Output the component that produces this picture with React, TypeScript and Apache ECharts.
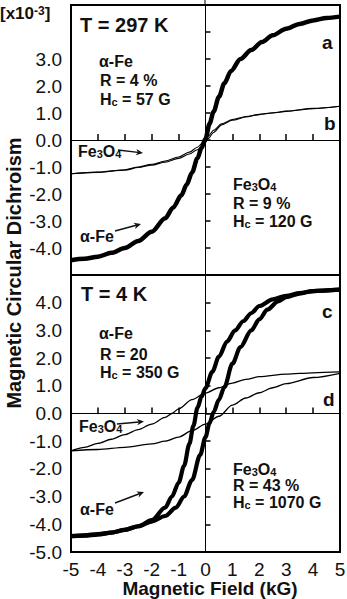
import React, { useEffect, useRef } from "react";
import * as echarts from "echarts";

// ---------- data (values in units of 1e-3, field in kG) ----------
const FIELD_MIN = -5;
const FIELD_MAX = 5;

// 297 K, alpha-Fe (curve a)
const rtFeX = [-5, -4.5, -4, -3.5, -3, -2.5, -2, -1.5, -1.2, -0.9, -0.7, -0.5, -0.3, -0.15, 0, 0.15, 0.3, 0.5, 0.7, 0.95, 1.3, 1.7, 2.1, 2.5, 3, 3.5, 4, 4.5, 5];
const rtFeY = [-4.45, -4.4, -4.32, -4.18, -4.0, -3.74, -3.4, -2.9, -2.5, -2.05, -1.65, -1.2, -0.68, -0.3, 0.05, 0.6, 1.05, 1.6, 2.1, 2.56, 3.0, 3.33, 3.63, 3.88, 4.12, 4.3, 4.43, 4.52, 4.57];

// 297 K, Fe3O4 (curve b), two nearly overlapping branches
const rtMagX = [-5, -4, -3, -2.5, -2, -1.5, -1, -0.6, -0.3, -0.1, 0, 0.1, 0.3, 0.6, 1, 1.5, 2, 2.5, 3, 4, 5];
const rtMagDownY = [-1.25, -1.2, -1.12, -1.02, -0.93, -0.82, -0.68, -0.52, -0.36, -0.2, -0.08, 0.05, 0.28, 0.56, 0.73, 0.85, 0.94, 1.0, 1.06, 1.16, 1.25];
const rtMagUpY = [-1.25, -1.19, -1.1, -1.0, -0.9, -0.78, -0.63, -0.45, -0.27, -0.1, 0.03, 0.14, 0.36, 0.6, 0.76, 0.87, 0.95, 1.01, 1.07, 1.17, 1.25];

// 4 K, alpha-Fe (curve c)
const ltFeDownX = [5, 4, 3.5, 3, 2.5, 2, 1.7, 1.4, 1.1, 0.8, 0.5, 0.25, 0, -0.15, -0.3, -0.45, -0.6, -0.8, -1.0, -1.25, -1.5, -2.0, -2.5, -3, -3.5, -4, -4.5, -5];
const ltFeDownY = [4.47, 4.42, 4.35, 4.25, 4.12, 3.88, 3.62, 3.33, 3.0, 2.6, 2.05, 1.5, 0.92, 0.6, 0.2, -0.45, -1.1, -1.9, -2.5, -3.0, -3.4, -3.85, -4.07, -4.2, -4.3, -4.35, -4.4, -4.43];
const ltFeUpX = [-5, -4.5, -4, -3.5, -3, -2.5, -2, -1.5, -1.1, -0.8, -0.5, -0.2, 0, 0.15, 0.3, 0.5, 0.7, 1.0, 1.3, 1.7, 2.0, 2.3, 2.7, 3, 3.5, 4, 5];
const ltFeUpY = [-4.43, -4.41, -4.37, -4.3, -4.2, -4.07, -3.9, -3.7, -3.4, -3.0, -2.4, -1.5, -0.85, -0.35, 0.05, 0.5, 0.95, 1.8, 2.4, 3.0, 3.4, 3.75, 4.05, 4.2, 4.33, 4.42, 4.47];

// 4 K, Fe3O4 (curve d)
const ltMagDownX = [5, 4, 3, 2, 1.5, 1, 0.5, 0, -0.5, -1, -1.25, -1.5, -2, -2.5, -3, -3.5, -4, -4.5, -5];
const ltMagDownY = [1.5, 1.47, 1.42, 1.33, 1.23, 1.1, 0.93, 0.74, 0.5, 0.17, 0.0, -0.14, -0.38, -0.58, -0.76, -0.93, -1.08, -1.22, -1.35];
const ltMagUpX = [-5, -4, -3, -2, -1.5, -1, -0.5, 0, 0.5, 1, 1.5, 2, 2.5, 3, 4, 5];
const ltMagUpY = [-1.35, -1.3, -1.22, -1.1, -1.0, -0.85, -0.62, -0.38, -0.1, 0.3, 0.56, 0.75, 0.93, 1.08, 1.3, 1.45];

// tick labels shown on each panel
const topYLabels = [-4, -3, -2, -1, 0, 1, 2, 3];
const bottomYLabels = [-5, -4, -3, -2, -1, 0, 1, 2, 3, 4];

// ---------- helpers ----------
const FONT = "'Liberation Sans', Arial, Helvetica, sans-serif";
const INK = "#111";

const zip = (xs: number[], ys: number[]) => xs.map((x, i) => [x, ys[i]]);

function label(x: number, y: number, text: string, size = 16) {
  return {
    type: "text",
    x,
    y,
    silent: true,
    style: {
      text,
      fontFamily: FONT,
      fontSize: size,
      fontWeight: "bold",
      fill: INK,
      align: "left",
      verticalAlign: "middle",
    },
  };
}

const richBase = (size: number) => ({
  m: { fontFamily: FONT, fontSize: size, fontWeight: "bold", fill: INK, lineHeight: size, verticalAlign: "middle" },
  s: { fontFamily: FONT, fontSize: Math.round(size * 0.68), fontWeight: "bold", fill: INK, lineHeight: 5, verticalAlign: "bottom" },
  p: { fontFamily: FONT, fontSize: Math.round(size * 0.68), fontWeight: "bold", fill: INK, lineHeight: 7, verticalAlign: "top" },
});

function rich(x: number, y: number, text: string, size = 16) {
  return {
    type: "text",
    x,
    y,
    silent: true,
    style: {
      text,
      rich: richBase(size),
      fontFamily: FONT,
      fontSize: size,
      fontWeight: "bold",
      fill: INK,
      align: "left",
      verticalAlign: "middle",
    },
  };
}

function arrow(x1: number, y1: number, x2: number, y2: number) {
  const dx = x2 - x1;
  const dy = y2 - y1;
  const len = Math.sqrt(dx * dx + dy * dy);
  const ux = dx / len;
  const uy = dy / len;
  const L = 7;
  const W = 3.2;
  const bx = x2 - ux * L;
  const by = y2 - uy * L;
  return [
    {
      type: "line",
      silent: true,
      shape: { x1, y1, x2: bx + ux * 2, y2: by + uy * 2 },
      style: { stroke: INK, lineWidth: 1.4 },
    },
    {
      type: "polygon",
      silent: true,
      shape: {
        points: [
          [x2, y2],
          [bx - uy * W, by + ux * W],
          [bx + ux * 2, by + uy * 2],
          [bx + uy * W, by - ux * W],
        ],
      },
      style: { fill: INK },
    },
  ];
}

function makeX(gridIndex: number, showLabels: boolean) {
  return {
    type: "value",
    gridIndex,
    min: FIELD_MIN,
    max: FIELD_MAX,
    interval: 1,
    axisLine: { show: false },
    splitLine: { show: false },
    axisTick: { show: true, inside: true, length: 6, lineStyle: { color: "#000", width: 1.5 } },
    axisLabel: {
      show: showLabels,
      margin: 8,
      fontFamily: FONT,
      fontSize: 19,
      lineHeight: 19,
      color: INK,
      formatter: (v: number) => String(v),
    },
  };
}

function makeY(gridIndex: number, shown: number[]) {
  return {
    type: "value",
    gridIndex,
    min: -5,
    max: 5,
    interval: 1,
    axisLine: { show: false },
    splitLine: { show: false },
    axisTick: { show: true, inside: true, length: 5, lineStyle: { color: "#000", width: 1.5 } },
    axisLabel: {
      show: true,
      margin: 9,
      fontFamily: FONT,
      fontSize: 19,
      color: INK,
      formatter: (v: number) => (shown.indexOf(Math.round(v)) >= 0 ? v.toFixed(1) : ""),
    },
  };
}

const zeroLines = {
  silent: true,
  symbol: ["none", "none"],
  label: { show: false },
  lineStyle: { color: "#000", width: 1, type: "solid" },
  data: [{ xAxis: 0 }, { yAxis: 0 }],
};

function curve(data: number[][], idx: number, width: number, withZero = false) {
  return {
    type: "line",
    xAxisIndex: idx,
    yAxisIndex: idx,
    data,
    showSymbol: false,
    symbol: "none",
    smooth: 0.3,
    smoothMonotone: "x",
    lineStyle: { color: "#000", width },
    silent: true,
    z: width > 2 ? 4 : 3,
    ...(withZero ? { markLine: zeroLines } : {}),
  };
}

export default function App() {
  const ref = useRef<HTMLDivElement>(null);

  useEffect(() => {
    if (!ref.current) return;
    const chart = echarts.init(ref.current, null, { renderer: "svg" });

    const graphic: any[] = [
      // axis unit
      rich(0, 13, "{m|[x10}{p|-3}{m|]}", 17),
      // zero-field line continuing above the top frame
      {
        type: "line",
        silent: true,
        shape: { x1: 205, y1: 0, x2: 205, y2: 5 },
        style: { stroke: "#000", lineWidth: 1 },
      },
      // y axis title
      {
        type: "text",
        x: 14,
        y: 273,
        rotation: Math.PI / 2,
        silent: true,
        style: {
          text: "Magnetic Circular Dichroism",
          fontFamily: FONT,
          fontSize: 20,
          fontWeight: "bold",
          fill: INK,
          align: "center",
          verticalAlign: "middle",
        },
      },
      // x axis title
      {
        type: "text",
        x: 210,
        y: 588.5,
        silent: true,
        style: {
          text: "Magnetic Field (kG)",
          fontFamily: FONT,
          fontSize: 19,
          fontWeight: "bold",
          fill: INK,
          align: "center",
          verticalAlign: "middle",
        },
      },
      // top panel
      label(80, 25, "T = 297 K", 20),
      label(99, 61, "\u03b1-Fe"),
      label(100, 80, "R = 4 %"),
      rich(100, 99, "{m|H}{s|c}{m| = 57 G}"),
      rich(233, 184, "{m|Fe}{s|3}{m|O}{s|4}"),
      label(233, 203, "R = 9 %"),
      rich(233, 221, "{m|H}{s|c}{m| = 120 G}"),
      label(322, 42, "a", 19),
      label(324, 123, "b", 19),
      rich(78, 151, "{m|Fe}{s|3}{m|O}{s|4}"),
      ...arrow(118, 150, 143, 153),
      label(80, 236, "\u03b1-Fe"),
      ...arrow(115, 231, 141, 224),
      // bottom panel
      label(81, 294, "T = 4 K", 20),
      label(99, 333, "\u03b1-Fe"),
      label(100, 354, "R = 20"),
      rich(100, 372, "{m|H}{s|c}{m| = 350 G}"),
      label(322, 311, "c", 19),
      label(323, 399, "d", 19),
      rich(79, 426, "{m|Fe}{s|3}{m|O}{s|4}"),
      ...arrow(117, 424, 144, 421.5),
      rich(233, 469, "{m|Fe}{s|3}{m|O}{s|4}"),
      label(233, 485, "R = 43 %"),
      rich(233, 502, "{m|H}{s|c}{m| = 1070 G}"),
      label(80, 509, "\u03b1-Fe"),
      ...arrow(115, 503, 144, 492),
    ];

    chart.setOption({
      animation: false,
      backgroundColor: "#fff",
      grid: [
        { left: 71, top: 5, width: 269, height: 270, show: true, borderColor: "#000", borderWidth: 2, backgroundColor: "transparent", containLabel: false, outerBoundsMode: "none" },
        { left: 71, top: 275, width: 269, height: 277, show: true, borderColor: "#000", borderWidth: 2, backgroundColor: "transparent", containLabel: false, outerBoundsMode: "none" },
      ],
      xAxis: [makeX(0, false), makeX(1, true)],
      yAxis: [makeY(0, topYLabels), makeY(1, bottomYLabels)],
      series: [
        curve(zip(rtMagX, rtMagDownY), 0, 1.1, true),
        curve(zip(rtMagX, rtMagUpY), 0, 1.1),
        curve(zip(rtFeX, rtFeY), 0, 4.5),
        curve(zip(ltMagDownX, ltMagDownY), 1, 1.3, true),
        curve(zip(ltMagUpX, ltMagUpY), 1, 1.3),
        curve(zip(ltFeDownX, ltFeDownY), 1, 4.2),
        curve(zip(ltFeUpX, ltFeUpY), 1, 4.2),
      ],
      graphic,
    });

    return () => chart.dispose();
  }, []);

  return (
    <div
      ref={ref}
      style={{ position: "fixed", left: 0, top: 0, width: 347, height: 599, background: "#fff" }}
    />
  );
}
